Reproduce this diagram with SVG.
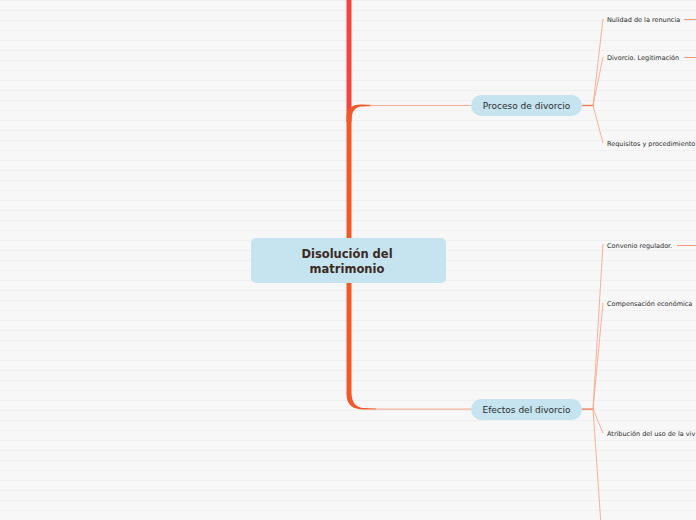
<svg xmlns="http://www.w3.org/2000/svg" width="696" height="520" viewBox="0 0 696 520">
<defs>
<pattern id="bg" width="696" height="10" patternUnits="userSpaceOnUse">
<rect width="696" height="10" fill="#f7f7f7"/>
<rect y="0" width="696" height="1" fill="#efefef"/>
</pattern>
<style>
.pill{fill:#c6e4f0}
.ntext{font-family:"DejaVu Sans",Verdana,sans-serif;font-size:9px;fill:#2b2b2b;text-anchor:middle}
.sub{font-family:"DejaVu Sans",Verdana,sans-serif;font-size:6.5px;fill:#2b2b2b}
.fan{stroke:#f6a98c;stroke-width:0.9;fill:none}
.stub{stroke:#f07a55;stroke-width:1.4;fill:none}
.tail{stroke:#f39a7c;stroke-width:1;fill:none}
</style>
</defs>
<rect width="696" height="520" fill="url(#bg)"/>
<g id="connectors">
<rect x="346.5" y="0" width="5" height="122" fill="#ef473d"/>
<path d="M346.5,250 L346.5,118 Q346.5,104.6 361,104.6 L374,104.9 L374,106 L362,106.4 Q351.5,107 351.5,120 L351.5,250 Z" fill="#f05a2a"/>
<line x1="370" y1="105.5" x2="472" y2="105.5" stroke="#f5b096" stroke-width="1"/>
<path d="M346.5,250 L346.5,394 Q346.5,409.6 364,409.6 L376,409.6 L376,408.6 L364,408 Q351.5,407.6 351.5,392 L351.5,250 Z" fill="#f05a2a"/>
<line x1="372" y1="409.1" x2="472" y2="409.1" stroke="#f4a080" stroke-width="1"/>
<line class="stub" x1="582" y1="105.5" x2="594" y2="105.5"/>
<path class="fan" d="M593,105.5 L603,19 M593,105.5 L603,57 M593,105.5 L603,143"/>
<line class="tail" x1="684" y1="19.5" x2="696" y2="19.5"/>
<line class="tail" x1="684" y1="57.5" x2="696" y2="57.5"/>
<line class="stub" x1="582" y1="409.1" x2="594" y2="409.1"/>
<path class="fan" d="M593,409.1 L603,244 M593,409.1 L603,303 M593,409.1 L603,433 M593,409.1 L601,525"/>
<line class="tail" x1="677" y1="245.5" x2="696" y2="245.5"/>
</g>
<g id="root">
<rect x="251" y="238" width="195" height="45" rx="5" fill="#c6e4f0"/>
<text x="347" y="258" font-family="DejaVu Sans,Verdana,sans-serif" font-weight="bold" font-size="11.5" fill="#3a2a22" text-anchor="middle">Disolución del</text>
<text x="347" y="273" font-family="DejaVu Sans,Verdana,sans-serif" font-weight="bold" font-size="11.5" fill="#3a2a22" text-anchor="middle">matrimonio</text>
</g>
<g id="proceso">
<rect class="pill" x="471" y="95" width="111" height="21" rx="10.5"/>
<text class="ntext" x="526.5" y="108.8">Proceso de divorcio</text>
</g>
<g id="efectos">
<rect class="pill" x="471" y="399" width="111" height="21" rx="10.5"/>
<text class="ntext" x="526.5" y="412.8">Efectos del divorcio</text>
</g>
<g id="nulidad"><text class="sub" x="607" y="21.8">Nulidad de la renuncia</text></g>
<g id="divorcio"><text class="sub" x="607" y="59.8">Divorcio. Legitimación</text></g>
<g id="requisitos"><text class="sub" x="607" y="145.8">Requisitos y procedimiento</text></g>
<g id="convenio"><text class="sub" x="607" y="247.8">Convenio regulador.</text></g>
<g id="compensacion"><text class="sub" x="607" y="305.8">Compensación económica</text></g>
<g id="atribucion"><text class="sub" x="607" y="435.8">Atribución del uso de la viv</text></g>
</svg>
